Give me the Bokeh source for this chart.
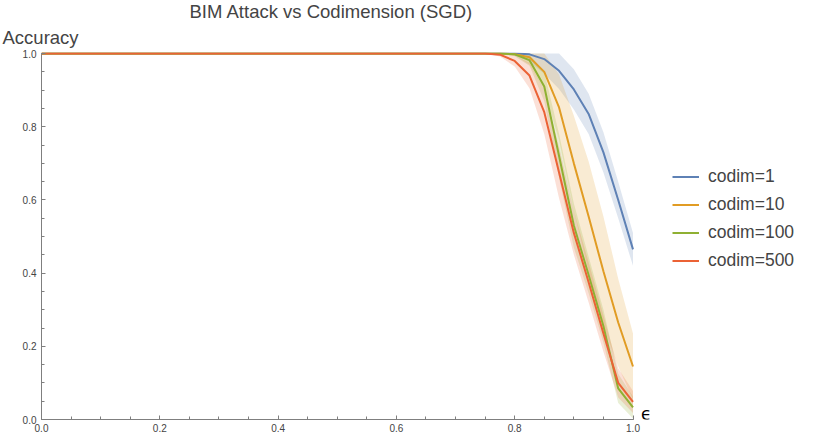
import numpy as np
from bokeh.plotting import figure
from bokeh.models import (Range1d, SingleIntervalTicker, PrintfTickFormatter,
                          Legend, LegendItem, Label, Title)
from bokeh.embed import file_html
from bokeh.resources import INLINE

# ---- data ----
eps = [0.0, 0.75, 0.775, 0.8, 0.825, 0.85, 0.875, 0.9, 0.925, 0.95, 0.975, 1.0]

codim1_mean = [1.0, 1.0, 1.0, 1.0, 0.998, 0.985, 0.953, 0.902, 0.835, 0.73, 0.60, 0.465]
codim1_sd = [0.0, 0.0, 0.0, 0.005, 0.02, 0.04, 0.05, 0.055, 0.055, 0.055, 0.05, 0.045]

codim10_mean = [1.0, 1.0, 1.0, 0.998, 0.99, 0.95, 0.853, 0.70, 0.555, 0.405, 0.265, 0.145]
codim10_sd = [0.0, 0.0, 0.0, 0.003, 0.02, 0.05, 0.09, 0.13, 0.15, 0.15, 0.12, 0.09]

codim100_mean = [1.0, 1.0, 1.0, 0.998, 0.982, 0.91, 0.72, 0.53, 0.395, 0.255, 0.085, 0.033]
codim100_sd = [0.0, 0.0, 0.0, 0.005, 0.015, 0.04, 0.06, 0.06, 0.05, 0.045, 0.04, 0.03]

codim500_mean = [1.0, 1.0, 0.997, 0.98, 0.94, 0.84, 0.675, 0.51, 0.375, 0.235, 0.10, 0.048]
codim500_sd = [0.0, 0.0, 0.005, 0.015, 0.035, 0.06, 0.07, 0.06, 0.055, 0.05, 0.04, 0.03]

series_names = ["codim=1", "codim=10", "codim=100", "codim=500"]
series_means = [codim1_mean, codim10_mean, codim100_mean, codim500_mean]
series_sds = [codim1_sd, codim10_sd, codim100_sd, codim500_sd]
colors = ["#5E81B5", "#E19C24", "#8FB032", "#EB6235"]

title_text = "BIM Attack vs Codimension (SGD)"
y_label = "Accuracy"
x_label = "\u03f5"

FONT = "Liberation Sans"

# layout: data x in [0,1] spans 591.5 px; frame extends further right to hold legend
W, H = 814, 439
LEFT, TOP, BOTTOM, RIGHT = 41, 52, 20, 2
px_per_x = 591.5
x_end = (W - LEFT - RIGHT) / px_per_x

p = figure(width=W, height=H, output_backend="svg", toolbar_location=None,
           x_range=Range1d(0, x_end), y_range=Range1d(0, 1.003),
           min_border_left=LEFT, min_border_right=RIGHT, min_border_top=TOP,
           min_border_bottom=BOTTOM, background_fill_color="white",
           border_fill_color="white")
p.outline_line_color = None
p.xgrid.visible = False
p.ygrid.visible = False

p.title.text = title_text
p.title.align = "left"
p.title.text_font = FONT
p.title.text_font_size = "18.5px"
p.title.text_font_style = "normal"
p.title.standoff = -4
p.title.offset = 148
p.add_layout(Title(text=y_label, align="left", offset=-39, standoff=10,
                   text_font=FONT, text_font_size="18.5px", text_font_style="normal"),
             "above")

x = np.array(eps)
for m, s, c in zip(series_means, series_sds, colors):
    m = np.array(m); s = np.array(s)
    p.varea(x=x, y1=m - s, y2=np.minimum(m + s, 1.0), fill_color=c, fill_alpha=0.2)

renderers = []
for m, c in zip(series_means, colors):
    r = p.line(x, m, line_color=c, line_width=2)
    renderers.append(r)

for ax in (p.xaxis[0], p.yaxis[0]):
    ax.ticker = SingleIntervalTicker(interval=0.2, num_minor_ticks=4)
    ax.formatter = PrintfTickFormatter(format="%.1f")
    ax.bounds = (0, 1)
    ax.axis_line_color = "#7f7f7f"
    ax.major_tick_line_color = "#7f7f7f"
    ax.minor_tick_line_color = "#7f7f7f"
    ax.major_tick_in = 4
    ax.major_tick_out = 0
    ax.minor_tick_in = 3
    ax.minor_tick_out = 0
    ax.major_label_text_font = FONT
    ax.major_label_text_font_size = "10px"
    ax.major_label_text_color = "#444444"
p.xaxis[0].major_label_standoff = 4
p.yaxis[0].major_label_standoff = 5

legend = Legend(items=[LegendItem(label=n, renderers=[r]) for n, r in zip(series_names, renderers)],
                location=(631, 148), padding=0, spacing=7, margin=0,
                glyph_width=27, glyph_height=21, label_height=21, label_standoff=9,
                label_text_font=FONT, label_text_font_size="17.5px",
                label_text_baseline="middle",
                border_line_color=None, background_fill_alpha=0)
p.add_layout(legend, "center")

p.add_layout(Label(x=1.0, y=0.0, x_offset=8, y_offset=-4, text=x_label, text_align="left",
                   text_baseline="bottom", text_font="DejaVu Sans", text_font_size="17px",
                   text_color="black"))

open("out.html", "w").write(file_html(p, INLINE))
